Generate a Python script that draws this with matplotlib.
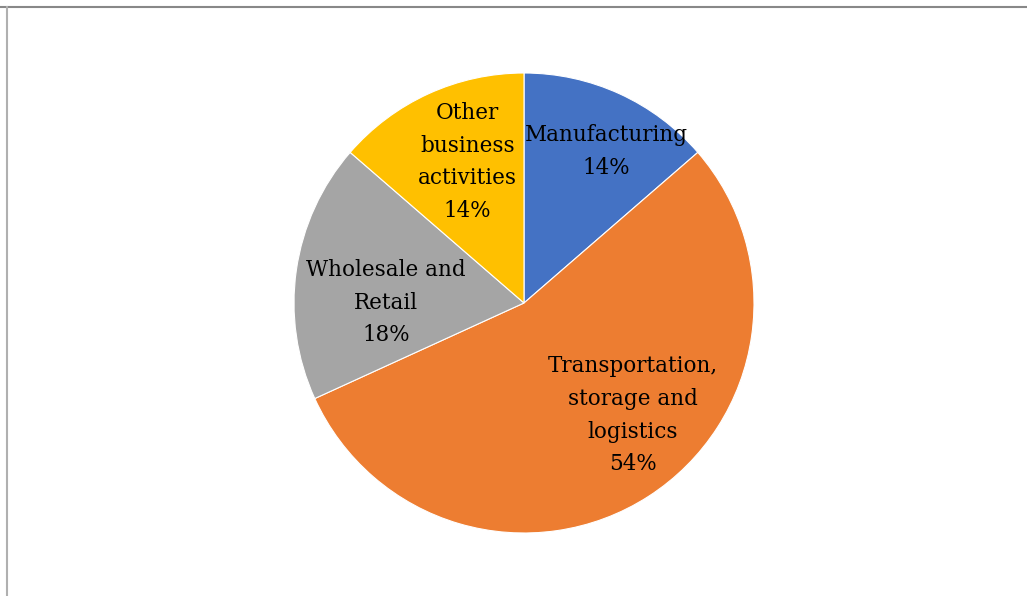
import matplotlib
matplotlib.use("Agg")
import matplotlib.pyplot as plt
import numpy as np
from matplotlib.lines import Line2D

categories = ["Manufacturing", "Transportation,\nstorage and\nlogistics", "Wholesale and\nRetail", "Other\nbusiness\nactivities"]
values = [3, 12, 4, 3]
pct_labels = ["14%", "54%", "18%", "14%"]
colors = ["#4472C4", "#ED7D31", "#A5A5A5", "#FFC000"]

# label placement style: (angle offset deg, radius fraction)
label_style = [(-3.9, 0.75), (11.4, 0.68), (8.0, 0.60), (-2.7, 0.66)]

W, H = 1027, 596
fig = plt.figure(figsize=(W / 100, H / 100), dpi=100)
cx, cy, r = 524, 303, 230
ax = fig.add_axes([(cx - r) / W, (H - cy - r) / H, 2 * r / W, 2 * r / H])
wedges, _ = ax.pie(values, colors=colors, startangle=90, counterclock=False,
                   radius=1.0, wedgeprops=dict(edgecolor="white", linewidth=0.8))
ax.set_xlim(-1, 1)
ax.set_ylim(-1, 1)
ax.set_aspect("equal")
ax.axis("off")

for w, cat, pct, (dang, rad) in zip(wedges, categories, pct_labels, label_style):
    mid = np.deg2rad((w.theta1 + w.theta2) / 2 + dang)
    ax.text(rad * np.cos(mid), rad * np.sin(mid), cat + "\n" + pct,
            ha="center", va="center", fontsize=15.5, family="DejaVu Serif",
            linespacing=1.62, color="#000000")

# frame lines
fig.add_artist(Line2D([0, 1], [1 - 7 / H, 1 - 7 / H], transform=fig.transFigure, color="#888888", lw=1.5))
fig.add_artist(Line2D([7 / W, 7 / W], [0, 1 - 7 / H], transform=fig.transFigure, color="#b0b0b0", lw=1.5))

fig.savefig("out.png", dpi=100)
